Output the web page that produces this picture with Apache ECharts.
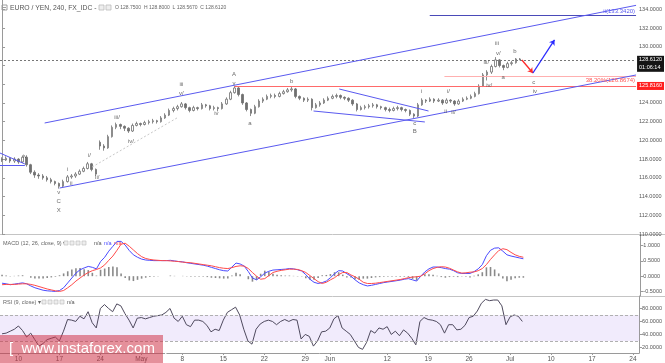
<!DOCTYPE html>
<html><head><meta charset="utf-8">
<script src="https://cdn.jsdelivr.net/npm/echarts@6/dist/echarts.min.js"></script>
<style>html,body{margin:0;padding:0;background:#fff}#c{width:665px;height:363px}</style>
</head><body><div id="c"></div>
<script>
// ---------- data ----------
const tradingDays = ['04-06','04-07','04-10','04-11','04-12','04-13','04-14','04-17','04-18','04-19','04-20','04-21','04-24','04-25','04-26','04-27','04-28',
'05-01','05-02','05-03','05-04','05-05','05-08','05-09','05-10','05-11','05-12','05-15','05-16','05-17','05-18','05-19','05-22','05-23','05-24','05-25','05-26','05-29','05-30','05-31',
'06-01','06-02','06-05','06-06','06-07','06-08','06-09','06-12','06-13','06-14','06-15','06-16','06-19','06-20','06-21','06-22','06-23','06-26','06-27','06-28','06-29','06-30',
'07-03','07-04','07-05','07-06','07-07','07-10','07-11','07-12','07-13','07-14','07-17','07-18','07-19','07-20','07-21','07-24'];
const tickBars = [4,14,24,34,44,54,64,74,80,94,104,114,124,134,144,154];
const tickLabels = ['10','17','24','May','8','15','22','29','Jun','12','19','26','Jul','10','17','24'];
const priceTicks = [110,112,114,116,118,120,122,124,126,128,130,132,134];
const macdTicks = [-0.5,0,0.5,1];
const rsiTicks = [20,40,60,80];

const open = [118.0,117.9,118.1,117.8,118.0,117.7,118.2,117.4,116.6,116.3,
 116.2,116.0,115.8,115.6,115.4,115.1,115.6,116.1,116.2,116.4,
 116.7,117.0,117.5,116.9,119.8,119.4,119.2,120.4,121.4,121.7,
 121.5,121.3,121.0,121.6,121.8,121.7,121.9,122.0,122.1,122.0,
 122.4,122.7,123.2,123.4,123.6,123.9,123.5,123.2,123.5,123.4,
 123.8,123.7,123.4,123.5,123.4,123.9,124.4,125.1,125.6,124.9,
 124.0,123.3,122.9,123.6,124.2,124.4,124.7,124.8,124.7,125.0,
 125.2,125.4,125.5,124.7,124.5,124.3,124.4,123.5,123.8,124.0,
 124.3,124.5,124.7,124.8,124.6,124.5,124.3,123.9,123.3,123.5,
 123.6,123.7,123.8,123.6,123.5,123.3,123.2,123.4,123.5,123.3,
 123.2,122.8,122.6,123.8,124.3,124.2,124.4,124.2,124.3,124.0,
 124.3,124.2,123.9,124.2,124.4,124.5,124.7,125.0,125.8,127.0,
 127.3,127.9,128.6,128.0,127.8,128.2,128.3,128.7];
const close = [117.9,118.1,117.8,118.0,117.7,118.2,117.4,116.6,116.3,116.2,
 116.0,115.8,115.6,115.4,115.1,115.6,116.1,116.2,116.4,116.7,
 117.0,117.5,116.9,116.4,119.4,119.2,120.4,121.4,121.7,121.5,
 121.3,121.0,121.6,121.8,121.7,121.9,122.0,122.1,122.0,122.4,
 122.7,123.2,123.4,123.6,123.9,123.5,123.2,123.5,123.4,123.8,
 123.7,123.4,123.5,123.4,123.9,124.4,125.1,125.6,124.9,124.0,
 123.3,122.9,123.6,124.2,124.4,124.7,124.8,124.7,125.0,125.2,
 125.4,125.5,124.7,124.5,124.3,124.4,123.5,123.8,124.0,124.3,
 124.5,124.7,124.8,124.6,124.5,124.3,123.9,123.3,123.5,123.6,
 123.7,123.8,123.6,123.5,123.3,123.2,123.4,123.5,123.3,123.2,
 122.8,122.6,123.8,124.3,124.2,124.4,124.2,124.3,124.0,124.3,
 124.2,123.9,124.2,124.4,124.5,124.7,125.0,125.8,127.0,127.3,
 127.9,128.6,128.0,127.8,128.2,128.3,128.7,128.612];
const low = [117.7,117.8,117.6,117.6,117.5,117.6,117.2,116.4,116.0,115.9,
 115.8,115.6,115.4,115.2,114.85,115.0,115.5,115.9,116.0,116.3,
 116.6,116.9,116.7,116.2,119.0,118.9,119.1,120.3,121.2,121.2,
 121.0,120.8,120.9,121.5,121.5,121.6,121.7,121.8,121.8,121.9,
 122.3,122.6,123.0,123.2,123.5,123.3,123.0,123.1,123.2,123.3,
 123.5,123.2,123.2,123.1,123.3,123.8,124.3,125.0,124.7,123.8,
 123.1,122.6,122.8,123.5,124.0,124.3,124.5,124.5,124.6,124.9,
 125.1,125.2,124.5,124.3,124.1,124.1,123.2,123.4,123.6,123.9,
 124.2,124.4,124.5,124.4,124.3,124.1,123.7,123.1,123.2,123.3,
 123.4,123.5,123.4,123.3,123.1,123.0,123.1,123.2,123.1,123.0,
 122.6,122.4,122.5,123.7,124.0,124.1,124.0,124.1,123.8,123.9,
 124.0,123.7,123.8,124.1,124.3,124.4,124.6,124.9,125.7,126.4,
 127.1,127.8,127.8,127.5,127.7,128.0,128.2,128.57];
const high = [118.2,118.3,118.2,118.2,118.1,118.4,118.3,117.5,116.8,116.5,
 116.4,116.2,116.0,115.7,115.5,115.8,116.3,116.4,116.6,116.9,
 117.2,117.7,117.6,117.0,120.0,119.6,120.6,121.6,121.9,121.8,
 121.6,121.4,121.8,122.0,121.9,122.1,122.2,122.3,122.2,122.6,
 122.9,123.4,123.6,123.8,124.1,124.0,123.6,123.7,123.6,124.0,
 123.9,123.8,123.7,123.6,124.1,124.6,125.3,125.82,125.7,125.0,
 124.1,123.4,123.8,124.4,124.6,124.9,125.0,125.0,125.2,125.4,
 125.6,125.7,125.6,124.8,124.6,124.6,124.5,124.0,124.2,124.5,
 124.7,124.9,125.0,124.9,124.7,124.6,124.4,124.0,123.7,123.8,
 123.9,124.0,123.9,123.7,123.6,123.5,123.6,123.7,123.6,123.4,
 123.3,122.9,124.0,124.5,124.4,124.6,124.5,124.5,124.4,124.5,
 124.4,124.3,124.4,124.6,124.7,124.9,125.2,126.0,127.2,127.5,
 128.1,128.9,128.7,128.1,128.4,128.5,128.8,128.8];

const macd = [-0.23,-0.25,-0.28,-0.26,-0.24,-0.22,-0.25,-0.32,-0.38,-0.42,
 -0.46,-0.48,-0.49,-0.50,-0.47,-0.38,-0.22,-0.06,0.10,0.21,
 0.27,0.32,0.29,0.24,0.48,0.62,0.82,0.98,1.14,1.14,
 1.02,0.84,0.70,0.62,0.56,0.53,0.52,0.51,0.51,0.51,
 0.51,0.52,0.50,0.48,0.47,0.44,0.42,0.40,0.38,0.36,
 0.33,0.29,0.25,0.21,0.18,0.17,0.30,0.43,0.40,0.33,
 0.15,-0.06,-0.12,-0.02,0.10,0.16,0.20,0.21,0.22,0.23,
 0.25,0.24,0.21,0.17,0.05,-0.10,-0.20,-0.24,-0.21,-0.16,
 -0.05,0.08,0.18,0.17,0.08,0.00,-0.12,-0.22,-0.28,-0.32,
 -0.30,-0.27,-0.24,-0.21,-0.19,-0.17,-0.15,-0.13,-0.10,-0.08,
 -0.12,-0.16,0.00,0.14,0.24,0.30,0.30,0.28,0.25,0.23,
 0.18,0.11,0.09,0.09,0.09,0.15,0.24,0.38,0.67,0.85,
 0.92,0.93,0.82,0.70,0.66,0.63,0.60,0.57];
const signal = [-0.28,-0.27,-0.27,-0.27,-0.26,-0.25,-0.25,-0.27,-0.30,-0.34,
 -0.38,-0.42,-0.45,-0.48,-0.50,-0.47,-0.38,-0.28,-0.16,-0.06,
 0.04,0.12,0.18,0.22,0.27,0.37,0.52,0.66,0.85,1.05,
 1.08,0.98,0.86,0.74,0.64,0.58,0.55,0.53,0.52,0.51,
 0.51,0.50,0.49,0.48,0.46,0.45,0.44,0.42,0.40,0.38,
 0.36,0.34,0.31,0.28,0.26,0.25,0.28,0.32,0.34,0.33,
 0.25,0.12,0.00,-0.10,-0.08,0.02,0.12,0.16,0.19,0.21,
 0.23,0.23,0.22,0.18,0.12,0.02,-0.08,-0.18,-0.24,-0.20,
 -0.12,-0.05,0.05,0.12,0.12,0.04,-0.02,-0.10,-0.20,-0.24,
 -0.24,-0.23,-0.21,-0.19,-0.17,-0.15,-0.13,-0.11,-0.08,-0.05,
 -0.03,-0.02,0.00,0.08,0.18,0.25,0.29,0.31,0.30,0.26,
 0.20,0.14,0.10,0.11,0.13,0.14,0.18,0.25,0.38,0.55,
 0.70,0.84,0.90,0.87,0.78,0.70,0.65,0.62];
const hist = [0.05,0.02,-0.01,0.01,0.02,0.03,0.00,-0.05,-0.08,-0.08,
 -0.08,-0.06,-0.04,-0.02,0.03,0.09,0.16,0.22,0.26,0.27,
 0.23,0.20,0.11,0.02,0.21,0.25,0.30,0.32,0.29,0.09,
 -0.06,-0.14,-0.16,-0.12,-0.08,-0.05,-0.03,-0.02,-0.01,0.00,
 0.00,0.02,0.01,0.00,0.01,-0.01,-0.02,-0.02,-0.02,-0.02,
 -0.03,-0.05,-0.06,-0.07,-0.08,-0.08,0.02,0.11,0.06,0.00,
 -0.10,-0.18,-0.12,0.08,0.18,0.14,0.08,0.05,0.03,0.02,
 0.02,0.01,-0.01,-0.01,-0.07,-0.12,-0.12,-0.06,0.03,0.04,
 0.07,0.13,0.13,0.05,-0.04,-0.04,-0.10,-0.12,-0.08,-0.08,
 -0.06,-0.04,-0.03,-0.02,-0.02,-0.02,-0.02,-0.02,-0.02,-0.03,
 -0.09,-0.14,0.00,0.06,0.06,0.05,0.01,-0.03,-0.05,-0.03,
 -0.02,-0.03,-0.01,-0.02,-0.04,0.01,0.06,0.13,0.29,0.30,
 0.22,0.09,-0.08,-0.17,-0.12,-0.07,-0.05,-0.05];
const rsi = [41,42,45,48,53,46,36,42,32,22,
 26,32,34,36,30,45,63,62,60,68,
 64,75,58,50,80,86,80,75,87,84,
 72,62,50,65,66,64,66,68,69,70,
 74,80,65,60,68,55,52,62,62,60,
 54,44,48,46,62,74,78,82,70,48,
 30,25,48,56,60,62,60,55,60,63,
 60,63,62,33,40,37,22,30,44,45,
 50,64,69,50,45,40,30,20,17,28,
 46,42,50,48,52,40,45,38,47,42,
 34,24,60,66,63,62,60,55,42,55,
 55,47,48,54,66,68,76,88,94,92,
 93,93,84,55,67,70,68,60];

const lastPrice = 128.612;
const countdown = '01:06:14';
const levelA = 125.816;
const fib382 = 126.8674;
const targetII = 133.342;

// Elliott wave labels: [text, bar, price]
const waveLabels = [
 ['iv',5.6,118.33],['v',13.9,114.49],['C',13.9,113.53],['X',13.9,112.56],
 ['i',16.05,116.94],['ii',17.0,115.45],['i/',21.4,118.44],['ii/',23.35,116.09],
 ['iii/',28.2,122.5],['iv/',31.6,119.94],['iii',44.0,126.03],['v/',44.0,125.06],
 ['iv',52.55,122.93],['A',56.9,127.09],['v',56.9,126.13],['a',60.8,121.86],
 ['b',71.05,126.35],['c',101.2,121.86],['B',101.2,121.0],['i',102.9,125.28],
 ['ii',108.8,123.14],['i/',109.5,125.28],['ii/',110.7,123.03],['iii/',118.75,128.38],
 ['iv/',119.5,125.92],['iii',121.4,130.41],['v/',121.7,129.34],['a',122.9,126.77],
 ['b',125.8,129.55],['c',130.4,126.24],['iv',130.7,125.28]
];
// trend lines: [bar1, price1, bar2, price2]
const channelUpper = [10.45,121.86,155.5,134.43];
const channelLower = [14.1,114.91,155.5,126.99];
const triLeftUpper = [-0.5,118.65,5.6,117.48];
const triLeftLower = [-0.5,117.37,5.6,117.37];
const triBUpper = [82.7,125.49,104.6,123.14];
const triBLower = [76.4,123.14,103.7,121.97];
const dottedGuide = [22.1,117.16,43.3,122.5];
const arrowDown = [127.5,128.59,130.2,127.2];
const arrowUp = [130.2,127.2,135.5,130.73];

// ---------- chart ----------
const FONT = '"Liberation Sans", Arial, sans-serif';
const categories = [];
tradingDays.forEach(d => { categories.push(d + ' 00', d + ' 12'); });
const candleData = open.map((o, i) => [o, close[i], low[i], high[i]]);

function seg(a, style, extra) {
  return [Object.assign({coord: [a[0], a[1]], lineStyle: style}, extra || {}), {coord: [a[2], a[3]]}];
}
const blue = '#5a5af0';
const candleGray = '#707070';

const chart = echarts.init(document.getElementById('c'), null, {renderer: 'canvas'});
const yAxisBase = {
  position: 'right', scale: false,
  axisLine: {show: true, lineStyle: {color: '#9a9a9a', width: 1}},
  splitLine: {show: false},
};
chart.setOption({
  animation: false,
  backgroundColor: '#fff',
  textStyle: {fontFamily: FONT},
  grid: [
    {left: 0, right: 24, top: 0, height: 234},
    {left: 0, right: 24, top: 235, height: 61},
    {left: 0, right: 24, top: 296, height: 58}
  ],
  xAxis: [
    {type: 'category', gridIndex: 0, data: categories, axisLine: {show: false}, axisTick: {show: false}, axisLabel: {show: false}, splitLine: {show: false}},
    {type: 'value', gridIndex: 0, min: -0.5, max: 155.5, show: false},
    {type: 'category', gridIndex: 1, data: categories, axisLine: {show: false}, axisTick: {show: false}, axisLabel: {show: false}},
    {type: 'category', gridIndex: 2, data: categories,
      axisLine: {show: true, lineStyle: {color: '#9a9a9a'}},
      axisTick: {show: true, alignWithLabel: true, length: 2, interval: (i) => tickBars.includes(i), lineStyle: {color: '#9a9a9a'}},
      axisLabel: {show: true, interval: (i) => tickBars.includes(i), formatter: (v, i) => tickLabels[tickBars.indexOf(i)] || '',
        fontSize: 6.5, color: '#555', margin: 3, fontFamily: FONT}}
  ],
  yAxis: [
    Object.assign({}, yAxisBase, {gridIndex: 0, min: 110, max: 135,
      axisTick: {show: true, length: 3, customValues: priceTicks, lineStyle: {color: '#9a9a9a'}},
      axisLabel: {customValues: priceTicks, formatter: v => v.toFixed(4), fontSize: 5.5, color: '#555', margin: 3, fontFamily: FONT}}),
    Object.assign({}, yAxisBase, {gridIndex: 1, min: -0.65, max: 1.35,
      axisTick: {show: true, length: 3, customValues: macdTicks, lineStyle: {color: '#9a9a9a'}},
      axisLabel: {customValues: macdTicks, formatter: v => v.toFixed(4), fontSize: 5.5, color: '#555', margin: 3, fontFamily: FONT}}),
    Object.assign({}, yAxisBase, {gridIndex: 2, min: 11.4, max: 99.2,
      axisTick: {show: true, length: 3, customValues: rsiTicks, lineStyle: {color: '#9a9a9a'}},
      axisLabel: {customValues: rsiTicks, formatter: v => v.toFixed(4), fontSize: 5.5, color: '#555', margin: 3, fontFamily: FONT}})
  ],
  series: [
    {type: 'candlestick', xAxisIndex: 0, yAxisIndex: 0, data: candleData, barMaxWidth: 2,
      itemStyle: {color: '#ffffff', color0: candleGray, borderColor: candleGray, borderColor0: candleGray, borderWidth: 0.8}},
    {type: 'scatter', xAxisIndex: 1, yAxisIndex: 0, z: 5,
      data: waveLabels.map(w => ({name: w[0], value: [w[1], w[2]]})),
      symbol: 'circle', symbolSize: 1, itemStyle: {color: 'rgba(0,0,0,0)'},
      label: {show: true, position: 'inside', formatter: '{b}', fontSize: 6, color: '#444', fontFamily: FONT},
      markLine: {
        silent: true, animation: false, symbol: ['none', 'none'], symbolSize: 5,
        label: {show: false},
        data: [
          {yAxis: lastPrice, lineStyle: {color: '#777', type: [2, 2], width: 1},
            label: {show: true, position: 'end', distance: 1, formatter: lastPrice.toFixed(4) + '\n' + countdown,
              backgroundColor: '#151515', color: '#fff', fontSize: 5.5, lineHeight: 8, padding: [0, 2], offset: [0, 4], fontFamily: FONT}},
          seg([57, levelA, 155.5, levelA], {color: '#ff6a6a', width: 1, type: 'solid'},
            {label: {show: true, position: 'end', distance: 1, formatter: levelA.toFixed(4), backgroundColor: '#ff1f1f', color: '#fff', fontSize: 5.5, padding: [1, 2], fontFamily: FONT}}),
          seg([108.5, fib382, 155.5, fib382], {color: '#ffb0b0', width: 1, type: 'solid'},
            {label: {show: true, position: 'insideEndBottom', distance: 1, formatter: '38.20%(' + fib382.toFixed(4) + ')', color: '#ff5555', fontSize: 6, fontFamily: FONT}}),
          seg([104.9, targetII, 155.5, targetII], {color: '#4a4ab8', width: 1, type: 'solid'},
            {label: {show: true, position: 'insideEndTop', distance: 1, formatter: 'ii(' + targetII.toFixed(4) + ')', color: '#5a5af0', fontSize: 6, fontFamily: FONT}}),
          seg(channelUpper, {color: blue, width: 1, type: 'solid'}),
          seg(channelLower, {color: blue, width: 1, type: 'solid'}),
          seg(triLeftUpper, {color: blue, width: 1, type: 'solid'}),
          seg(triLeftLower, {color: blue, width: 1, type: 'solid'}),
          seg(triBUpper, {color: blue, width: 1, type: 'solid'}),
          seg(triBLower, {color: blue, width: 1, type: 'solid'}),
          seg(dottedGuide, {color: '#c8c8c8', width: 1, type: [2, 2]}),
          [{coord: [arrowDown[0], arrowDown[1]], symbol: 'none', lineStyle: {color: '#ff2a2a', width: 1.3, type: 'solid'}},
           {coord: [arrowDown[2], arrowDown[3]], symbol: 'arrow', symbolSize: 5}],
          [{coord: [arrowUp[0], arrowUp[1]], symbol: 'none', lineStyle: {color: '#2a2aff', width: 1.3, type: 'solid'}},
           {coord: [arrowUp[2], arrowUp[3]], symbol: 'arrow', symbolSize: 5}]
        ]
      }
    },
    {type: 'bar', xAxisIndex: 2, yAxisIndex: 1, data: hist, barWidth: 1.6, itemStyle: {color: '#8a8a8a'}},
    {type: 'line', xAxisIndex: 2, yAxisIndex: 1, data: macd, symbol: 'none', lineStyle: {color: '#4a4aff', width: 1}},
    {type: 'line', xAxisIndex: 2, yAxisIndex: 1, data: signal, symbol: 'none', lineStyle: {color: '#ff4a4a', width: 1}},
    {type: 'line', xAxisIndex: 3, yAxisIndex: 2, data: rsi, symbol: 'none', lineStyle: {color: '#4f4a5e', width: 1},
      markArea: {silent: true, itemStyle: {color: 'rgba(150,100,232,0.13)'}, data: [[{yAxis: 70}, {yAxis: 30}]]},
      markLine: {silent: true, symbol: ['none', 'none'], label: {show: false},
        lineStyle: {color: '#b0b0b0', type: [3, 2], width: 1}, data: [{yAxis: 70}, {yAxis: 30}]}}
  ],
  graphic: [
    {type: 'line', shape: {x1: 0, y1: 234.5, x2: 665, y2: 234.5}, style: {stroke: '#c4c4c4', lineWidth: 1}, silent: true},
    {type: 'line', shape: {x1: 0, y1: 296.5, x2: 665, y2: 296.5}, style: {stroke: '#c4c4c4', lineWidth: 1}, silent: true},
    {type: 'rect', shape: {x: 2, y: 5, width: 5, height: 5}, style: {fill: '#fff', stroke: '#888', lineWidth: 0.8}},
    {type: 'line', shape: {x1: 3, y1: 7.5, x2: 6, y2: 7.5}, style: {stroke: '#888', lineWidth: 0.8}},
    {type: 'text', left: 10, top: 4.5, style: {text: 'EURO / YEN, 240, FX_IDC -', fill: '#555', font: '6.8px ' + FONT}},
    {type: 'rect', shape: {x: 99, y: 5, width: 5, height: 5}, style: {fill: '#eee', stroke: '#bbb', lineWidth: 0.8}},
    {type: 'rect', shape: {x: 106, y: 5, width: 5, height: 5}, style: {fill: '#eee', stroke: '#bbb', lineWidth: 0.8}},
    {type: 'text', left: 115, top: 5.5, style: {text: 'O 128.7500  H 128.8000  L 128.5670  C 128.6120', fill: '#666', font: '5px ' + FONT}},
    {type: 'text', left: 3, top: 240, style: {text: 'MACD (12, 26, close, 9) \u25BE', fill: '#666', font: '5.5px ' + FONT}},
    {type: 'rect', shape: {x: 64, y: 241, width: 4, height: 4}, style: {fill: '#eee', stroke: '#bbb', lineWidth: 0.6}},
    {type: 'rect', shape: {x: 70, y: 241, width: 4, height: 4}, style: {fill: '#eee', stroke: '#bbb', lineWidth: 0.6}},
    {type: 'rect', shape: {x: 76, y: 241, width: 4, height: 4}, style: {fill: '#eee', stroke: '#bbb', lineWidth: 0.6}},
    {type: 'rect', shape: {x: 82, y: 241, width: 4, height: 4}, style: {fill: '#eee', stroke: '#bbb', lineWidth: 0.6}},
    {type: 'text', left: 94, top: 240, style: {text: 'n/a', fill: '#555', font: '5.5px ' + FONT}},
    {type: 'text', left: 104, top: 240, style: {text: 'n/a', fill: '#4a4aff', font: '5.5px ' + FONT}},
    {type: 'text', left: 114, top: 240, style: {text: 'n/a', fill: '#ff4a4a', font: '5.5px ' + FONT}},
    {type: 'text', left: 3, top: 299, style: {text: 'RSI (9, close) \u25BE', fill: '#666', font: '5.5px ' + FONT}},
    {type: 'rect', shape: {x: 42, y: 300, width: 4, height: 4}, style: {fill: '#eee', stroke: '#bbb', lineWidth: 0.6}},
    {type: 'rect', shape: {x: 48, y: 300, width: 4, height: 4}, style: {fill: '#eee', stroke: '#bbb', lineWidth: 0.6}},
    {type: 'rect', shape: {x: 54, y: 300, width: 4, height: 4}, style: {fill: '#eee', stroke: '#bbb', lineWidth: 0.6}},
    {type: 'rect', shape: {x: 60, y: 300, width: 4, height: 4}, style: {fill: '#eee', stroke: '#bbb', lineWidth: 0.6}},
    {type: 'text', left: 67, top: 299, style: {text: 'n/a', fill: '#555', font: '5.5px ' + FONT}},
    {type: 'rect', z: 100, shape: {x: 0, y: 335, width: 163, height: 28}, style: {fill: 'rgba(208,52,72,0.55)'}},
    {type: 'text', z: 101, left: 9, top: 341, style: {text: '[  www.instaforex.com  ]', fill: '#ffffff', font: '15px ' + FONT}}
  ]
});
</script></body></html>
